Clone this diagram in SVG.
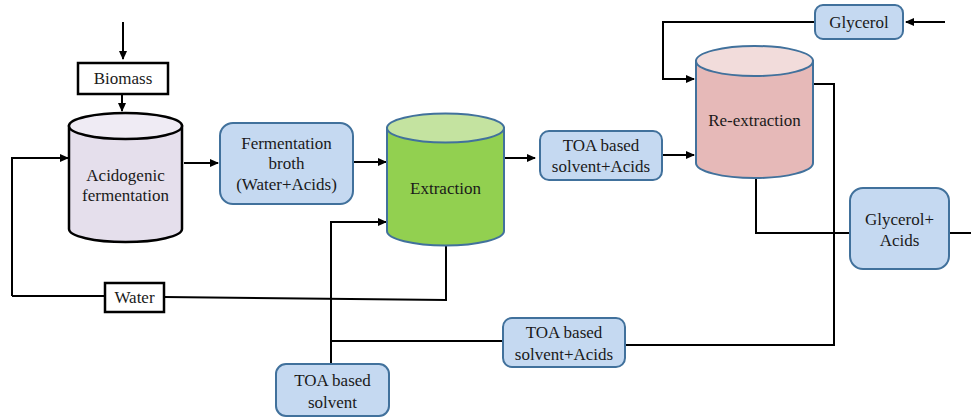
<svg xmlns="http://www.w3.org/2000/svg" width="971" height="419" viewBox="0 0 971 419">
  <style>
    .flow { fill: none; stroke: #000; stroke-width: 2; }
    .arrow { marker-end: url(#ah); }
    .blue { fill: #c5d9f1; stroke: #41719c; stroke-width: 2; }
    .plain { fill: #fff; stroke: #000; stroke-width: 2.5; }
  </style>
  <defs>
    <marker id="ah" markerWidth="9" markerHeight="8" refX="8" refY="4" orient="auto" markerUnits="userSpaceOnUse">
      <path d="M0,0 L9,4 L0,8 Z" fill="#000"/>
    </marker>
  </defs>
  <rect width="971" height="419" fill="#fff"/>

  <!-- Connectors -->
  <g id="connectors">
    <path class="flow arrow" d="M123,22 V59"/>
    <path class="flow arrow" d="M122,94 V111"/>
    <path class="flow arrow" d="M12,296 V158 H68"/>
    <path class="flow" d="M12,296 H105"/>
    <path class="flow" d="M164,297 L446,300 V246"/>
    <path class="flow arrow" d="M184,163 H218"/>
    <path class="flow arrow" d="M353,162 H386"/>
    <path class="flow arrow" d="M331,364 V222 H386"/>
    <path class="flow" d="M331,341 H503"/>
    <path class="flow arrow" d="M504,158 H535"/>
    <path class="flow arrow" d="M662,155 H694"/>
    <path class="flow arrow" d="M945,22 H906"/>
    <path class="flow arrow" d="M815,22 H663 V79 H694"/>
    <path class="flow" d="M813,84 H834 V345 H625"/>
    <path class="flow" d="M756,178 V233 H850"/>
    <path class="flow" d="M949,233 H971"/>
  </g>

  <g font-family="Liberation Serif, Times New Roman, DejaVu Serif, serif" font-size="17" fill="#1a1a1a" text-anchor="middle">
    <!-- Biomass feed -->
    <g id="biomass">
      <rect class="plain" x="78" y="63" width="90" height="31"/>
      <text x="123" y="84">Biomass</text>
    </g>

    <!-- Acidogenic fermentation vessel -->
    <g id="acidogenic">
      <path d="M69,126 V229 A56.5,13 0 0 0 182,229 V126 Z" fill="#e5dfec" stroke="#000" stroke-width="2.5"/>
      <ellipse cx="125.5" cy="126" rx="56.5" ry="13" fill="#efebf4" stroke="#000" stroke-width="2.5"/>
      <text x="125.5" y="181">Acidogenic</text>
      <text x="125.5" y="201">fermentation</text>
    </g>

    <!-- Fermentation broth -->
    <g id="broth">
      <rect class="blue" x="220" y="123" width="133" height="81" rx="13"/>
      <text x="286.5" y="149">Fermentation</text>
      <text x="286.5" y="169">broth</text>
      <text x="286.5" y="190">(Water+Acids)</text>
    </g>

    <!-- Extraction vessel -->
    <g id="extraction">
      <path d="M387,128 V231 A58.5,14.5 0 0 0 504,231 V128 Z" fill="#92d050" stroke="#41719c" stroke-width="2"/>
      <ellipse cx="445.5" cy="128" rx="58.5" ry="14.5" fill="#c4e3a0" stroke="#41719c" stroke-width="2"/>
      <text x="445.5" y="194">Extraction</text>
    </g>

    <!-- Loaded solvent to re-extraction -->
    <g id="solvent-acids-top">
      <rect class="blue" x="540" y="131" width="122" height="49" rx="9"/>
      <text x="601" y="151">TOA based</text>
      <text x="601" y="172">solvent+Acids</text>
    </g>

    <!-- Glycerol feed -->
    <g id="glycerol">
      <rect class="blue" x="815" y="5" width="88" height="34" rx="8"/>
      <text x="859" y="28">Glycerol</text>
    </g>

    <!-- Re-extraction vessel -->
    <g id="re-extraction">
      <path d="M696,61 V163 A58.5,15 0 0 0 813,163 V61 Z" fill="#e6b9b8" stroke="#41719c" stroke-width="2"/>
      <ellipse cx="754.5" cy="61" rx="58.5" ry="15" fill="#f2dcdb" stroke="#41719c" stroke-width="2"/>
      <text x="754.5" y="126">Re-extraction</text>
    </g>

    <!-- Glycerol + acids product -->
    <g id="glycerol-acids">
      <rect class="blue" x="850" y="188" width="99" height="81" rx="13"/>
      <text x="899.5" y="225">Glycerol+</text>
      <text x="899.5" y="246">Acids</text>
    </g>

    <!-- Recycled solvent -->
    <g id="solvent-acids-bottom">
      <rect class="blue" x="503" y="318" width="122" height="49" rx="9"/>
      <text x="564" y="338">TOA based</text>
      <text x="564" y="360">solvent+Acids</text>
    </g>

    <!-- Fresh solvent -->
    <g id="solvent">
      <rect class="blue" x="276" y="364" width="113" height="52" rx="10"/>
      <text x="332.5" y="386">TOA based</text>
      <text x="332.5" y="408">solvent</text>
    </g>

    <!-- Water recycle -->
    <g id="water">
      <rect class="plain" x="105" y="283" width="59" height="29"/>
      <text x="134.5" y="303">Water</text>
    </g>
  </g>
</svg>
